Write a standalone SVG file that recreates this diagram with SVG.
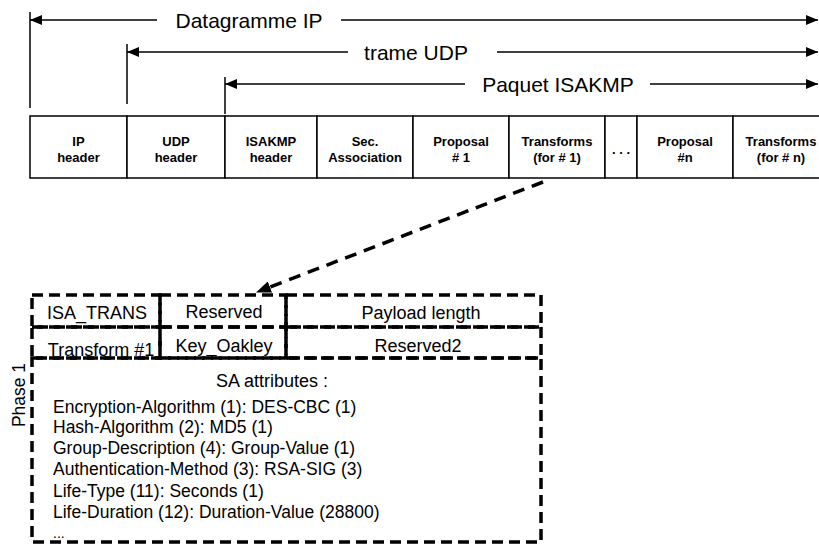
<svg xmlns="http://www.w3.org/2000/svg" width="819" height="546" viewBox="0 0 819 546">
  <style>
    .dim { stroke: #000; stroke-width: 1.5; fill: none; }
    .cell { stroke: #000; stroke-width: 1.5; fill: #fff; }
    .lbl { font-family: "Liberation Sans", Arial, sans-serif; font-size: 21px; fill: #000; text-anchor: middle; }
    .hdr { font-family: "Liberation Sans", Arial, sans-serif; font-size: 13px; font-weight: bold; fill: #000; text-anchor: middle; }
    .dbox { stroke: #000; stroke-width: 3.5; stroke-dasharray: 11 6; fill: none; }
    .ftxt { font-family: "Liberation Sans", Arial, sans-serif; font-size: 18px; fill: #000; text-anchor: middle; }
    .attr { font-family: "Liberation Sans", Arial, sans-serif; font-size: 17.5px; fill: #000; }
  </style>
  <defs>
    <marker id="dimArrow" viewBox="0 0 12 10" refX="12" refY="5" markerWidth="12" markerHeight="10" markerUnits="userSpaceOnUse" orient="auto-start-reverse">
      <path d="M0,0 L12,5 L0,10 z" fill="#000"/>
    </marker>
    <marker id="bigArrow" viewBox="0 0 15 12" refX="0" refY="6" markerWidth="15" markerHeight="12" markerUnits="userSpaceOnUse" orient="auto">
      <path d="M0,0 L15,6 L0,12 z" fill="#000"/>
    </marker>
  </defs>

  <!-- extent lines above the frame -->
  <g id="extents">
    <g id="ext-ip">
      <line class="dim" x1="30" y1="12" x2="30" y2="108"/>
      <line class="dim" x1="30" y1="20" x2="157" y2="20" marker-start="url(#dimArrow)"/>
      <line class="dim" x1="341" y1="20" x2="818" y2="20" marker-end="url(#dimArrow)"/>
      <text class="lbl" x="249" y="27.5">Datagramme IP</text>
    </g>
    <g id="ext-udp">
      <line class="dim" x1="127" y1="44" x2="127" y2="104"/>
      <line class="dim" x1="127" y1="52" x2="348" y2="52" marker-start="url(#dimArrow)"/>
      <line class="dim" x1="497" y1="52" x2="818" y2="52" marker-end="url(#dimArrow)"/>
      <text class="lbl" x="416" y="59.5">trame UDP</text>
    </g>
    <g id="ext-isakmp">
      <line class="dim" x1="225" y1="77" x2="225" y2="114"/>
      <line class="dim" x1="225" y1="84" x2="465" y2="84" marker-start="url(#dimArrow)"/>
      <line class="dim" x1="650" y1="84" x2="818" y2="84" marker-end="url(#dimArrow)"/>
      <text class="lbl" x="558" y="91.5">Paquet ISAKMP</text>
    </g>
  </g>

  <!-- packet layout -->
  <g id="frame">
    <g id="f-ip"><rect class="cell" x="30" y="116" width="97" height="62"/>
      <text class="hdr" x="78.5" y="146">IP</text><text class="hdr" x="78.5" y="162">header</text></g>
    <g id="f-udp"><rect class="cell" x="127" y="116" width="98" height="62"/>
      <text class="hdr" x="176" y="146">UDP</text><text class="hdr" x="176" y="162">header</text></g>
    <g id="f-isakmp"><rect class="cell" x="225" y="116" width="92" height="62"/>
      <text class="hdr" x="271" y="146">ISAKMP</text><text class="hdr" x="271" y="162">header</text></g>
    <g id="f-sa"><rect class="cell" x="317" y="116" width="96" height="62"/>
      <text class="hdr" x="365" y="146">Sec.</text><text class="hdr" x="365" y="162">Association</text></g>
    <g id="f-prop1"><rect class="cell" x="413" y="116" width="96" height="62"/>
      <text class="hdr" x="461" y="146">Proposal</text><text class="hdr" x="461" y="162"># 1</text></g>
    <g id="f-trans1"><rect class="cell" x="509" y="116" width="96" height="62"/>
      <text class="hdr" x="557" y="146">Transforms</text><text class="hdr" x="557" y="162">(for # 1)</text></g>
    <g id="f-dots"><rect class="cell" x="605" y="116" width="32" height="62"/>
      <text class="hdr" x="621" y="154">. . .</text></g>
    <g id="f-propn"><rect class="cell" x="637" y="116" width="96" height="62"/>
      <text class="hdr" x="685" y="146">Proposal</text><text class="hdr" x="685" y="162">#n</text></g>
    <g id="f-transn"><rect class="cell" x="733" y="116" width="100" height="62"/>
      <text class="hdr" x="781" y="146">Transforms</text><text class="hdr" x="781" y="162">(for # n)</text></g>
  </g>

  <!-- zoom connector -->
  <g id="connectors">
    <line x1="543" y1="182" x2="270" y2="287" stroke="#000" stroke-width="3.5" stroke-dasharray="12 8" marker-end="url(#bigArrow)"/>
  </g>

  <!-- transform payload detail -->
  <g id="t-isatrans"><rect class="dbox" x="32" y="295" width="128" height="32"/>
    <text class="ftxt" x="97" y="319">ISA_TRANS</text></g>
  <g id="t-reserved"><rect class="dbox" x="160" y="295" width="126" height="32"/>
    <text class="ftxt" x="224" y="318">Reserved</text></g>
  <g id="t-length"><rect class="dbox" x="286" y="295" width="255" height="32"/>
    <text class="ftxt" x="421" y="319">Payload length</text></g>
  <g id="t-number"><rect class="dbox" x="32" y="327" width="128" height="31"/>
    <text class="ftxt" x="101" y="356">Transform #1</text></g>
  <g id="t-keyoakley"><rect class="dbox" x="160" y="327" width="126" height="31"/>
    <text class="ftxt" x="224" y="352">Key_Oakley</text></g>
  <g id="t-reserved2"><rect class="dbox" x="286" y="327" width="255" height="31"/>
    <text class="ftxt" x="418" y="352">Reserved2</text></g>
  <g id="t-attributes"><rect class="dbox" x="32" y="358" width="509" height="184"/>
    <text class="ftxt" x="272" y="387">SA attributes :</text>
    <text class="attr" x="53" y="413">Encryption-Algorithm (1): DES-CBC (1)</text>
    <text class="attr" x="53" y="433">Hash-Algorithm (2): MD5 (1)</text>
    <text class="attr" x="53" y="454">Group-Description (4): Group-Value (1)</text>
    <text class="attr" x="53" y="475">Authentication-Method (3): RSA-SIG (3)</text>
    <text class="attr" x="53" y="497">Life-Type (11): Seconds (1)</text>
    <text class="attr" x="53" y="518">Life-Duration (12): Duration-Value (28800)</text>
    <text class="attr" x="53" y="538" style="font-size:14px">...</text>
  </g>
  <g id="phase-label">
    <text class="attr" text-anchor="middle" transform="translate(25,395) rotate(-90)">Phase 1</text>
  </g>
</svg>
